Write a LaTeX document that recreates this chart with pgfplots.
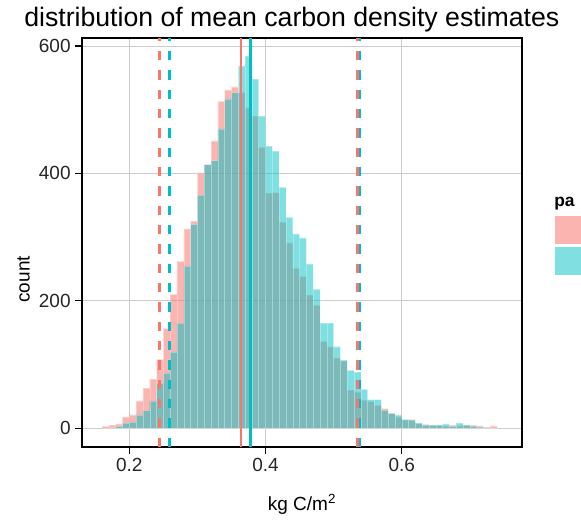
\documentclass[border=0pt]{standalone}
\usepackage{pgfplots}
\pgfplotsset{compat=1.18}
\usepackage{pgfplotstable}
\usepackage{fontspec}
\setmainfont{Liberation Sans}
\definecolor{gred}{HTML}{F8766D}
\definecolor{gteal}{HTML}{00BFC4}
\definecolor{ggrid}{HTML}{CCCCCC}

\pgfplotstableread{
x red teal
0.165 3 0
0.175 5 1
0.185 7 3
0.195 18 8
0.205 21 10
0.215 43 21
0.225 63 28
0.235 77 43
0.245 108 71
0.255 157 87
0.265 210 120
0.275 262 165
0.285 313 255
0.295 325 320
0.305 401 366
0.315 414 414
0.325 451 420
0.335 513 470
0.345 531 517
0.355 536 527
0.365 527 569
0.375 503 584
0.385 490 548
0.395 441 490
0.405 369 443
0.415 370 435
0.425 323 378
0.435 291 331
0.445 251 305
0.455 238 299
0.465 209 258
0.475 193 218
0.485 136 165
0.495 128 165
0.505 110 128
0.515 106 107
0.525 60 91
0.535 57 88
0.545 44 61
0.555 42 45
0.565 36 45
0.575 31 28
0.585 24 23
0.595 18 21
0.605 13 14
0.615 14 13
0.625 8 8
0.635 6 5
0.645 5 5
0.655 5 5
0.665 3 7
0.675 5 3
0.685 4 8
0.695 5 5
0.705 5 3
0.715 4 2
0.725 2 1
0.735 4 0
}\histdata

\begin{document}
\begin{tikzpicture}[x=0.75pt,y=0.75pt]
\begin{axis}[
  at={(61.5pt,-335.25pt)}, anchor=south west,
  scale only axis, width=330pt, height=306.75pt,
  xmin=0.13054, xmax=0.77665, ymin=-29.35, ymax=612.55,
  xtick={0.2,0.4,0.6}, xticklabels={0.2,0.4,0.6},
  ytick={0,200,400,600}, yticklabels={0,200,400,600},
  xtick pos=lower, ytick pos=left,
  grid=major, grid style={draw=ggrid, line width=0.7pt},
  axis line style={line width=1.6pt, black},
  tick align=outside, major tick length=5pt,
  tick style={black, line width=0.8pt},
  tick label style={font=\fontsize{14.25}{16}\selectfont, black!85},
  label style={font=\fontsize{14.25}{16}\selectfont},
  xlabel={kg C/m\textsuperscript{2}}, ylabel={count},
  xlabel style={yshift=-10pt},
  ylabel style={at={(ticklabel cs:0.41)}},
  clip=true,
]
\addplot[ybar, bar width=0.01, bar shift=0pt, fill=gred, fill opacity=0.55, draw=white, draw opacity=0.3, line width=0.3pt] table[x=x, y=red] {\histdata};
\addplot[ybar, bar width=0.01, bar shift=0pt, fill=gteal, fill opacity=0.5, draw=white, draw opacity=0.3, line width=0.3pt] table[x=x, y=teal] {\histdata};
\addplot[gred, line width=2pt, dash pattern=on 7pt off 7.5pt] coordinates {(0.244,-29.35) (0.244,612.55)};
\addplot[gteal, line width=2pt, dash pattern=on 7pt off 7.5pt] coordinates {(0.2593,-29.35) (0.2593,612.55)};
\addplot[gred, line width=2pt, dash pattern=on 7pt off 7.5pt] coordinates {(0.5354,-29.35) (0.5354,612.55)};
\addplot[gteal, line width=2pt, dash pattern=on 7pt off 7.5pt] coordinates {(0.5389,-29.35) (0.5389,612.55)};
\addplot[gred, line width=2pt] coordinates {(0.364,-29.35) (0.364,612.55)};
\addplot[gteal, line width=2pt] coordinates {(0.3783,-29.35) (0.3783,612.55)};
\end{axis}
\node[anchor=base west, inner sep=0pt, font=\fontsize{20}{24}\selectfont] at (24,-27) {distribution of mean carbon density estimates};
\node[anchor=base west, inner sep=0pt, font=\bfseries\fontsize{13}{15}\selectfont] at (554,-206) {pa};
\filldraw[fill=gred, fill opacity=0.55, draw=white, line width=0.8pt] (554,-215) rectangle (600,-245);
\filldraw[fill=gteal, fill opacity=0.5, draw=white, line width=0.8pt] (554,-246) rectangle (600,-276);
\pgfresetboundingbox
\path (0,0) rectangle (581,-531);
\end{tikzpicture}
\end{document}
